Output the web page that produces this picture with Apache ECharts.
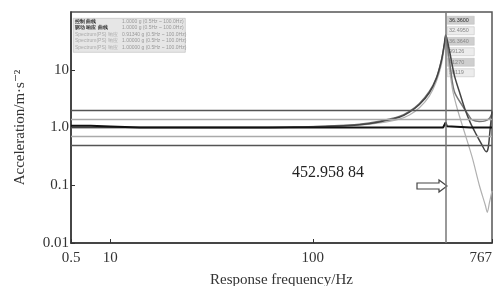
<!DOCTYPE html>
<html>
<head>
<meta charset="utf-8">
<title>response</title>
<script src="https://cdn.jsdelivr.net/npm/echarts@6/dist/echarts.min.js"></script>
</head>
<body style="margin:0;background:#fff">
<div id="main" style="width:501px;height:286px;"></div>
<script type="text/javascript">

    // axis ticks
    var xTickVals = [6.4, 10, 100, 767];
    var xTickText = ['0.5', '10', '100', '767'];
    var yTickVals = [0.01, 0.1, 1, 10];
    var yTickText = ['0.01', '0.1', '1.0', '10'];

    // control (black)
    var ctrlFreq = [6.4, 8, 10, 14, 30, 100, 300, 440, 447, 453, 459, 466, 600, 767];
    var ctrlVal  = [1.07, 1.07, 1.04, 1.0, 1.0, 1.0, 1.0, 1.0, 1.05, 1.22, 1.05, 1.0, 1.0, 1.0];

    // response 1 (dark, dips near 720 Hz)
    var r1Freq = [6.4, 20, 60, 86, 121, 170, 213, 267, 300, 336, 376, 407, 431, 446, 453, 472, 500, 529, 566, 600, 641, 680, 719, 735, 750, 767];
    var r1Val  = [1.0, 1.0, 1.0, 1.02, 1.05, 1.12, 1.25, 1.5, 1.85, 2.5, 4.0, 7.0, 14, 28, 40, 22, 8, 4.2, 2.0, 1.2, 0.76, 0.52, 0.38, 0.45, 0.9, 1.9];

    // response 2 (mid grey, U shape)
    var r2Freq = [6.4, 20, 60, 86, 121, 170, 213, 267, 300, 336, 376, 407, 431, 446, 453, 472, 500, 547, 590, 613, 664, 710, 745, 767];
    var r2Val  = [1.0, 1.0, 1.0, 1.02, 1.06, 1.14, 1.28, 1.55, 1.9, 2.6, 4.2, 7.2, 14.5, 27, 37, 15, 4.2, 2.4, 1.6, 1.35, 1.27, 1.3, 1.45, 1.75];

    // response 3 (light grey, deep notch)
    var r3Freq = [6.4, 20, 60, 86, 121, 170, 213, 267, 300, 336, 376, 407, 431, 446, 453, 470, 490, 510, 529, 566, 613, 664, 711, 727, 745, 767];
    var r3Val  = [1.0, 1.0, 0.99, 1.0, 1.03, 1.1, 1.2, 1.4, 1.65, 2.2, 3.5, 6.2, 12, 24, 33, 12, 4.5, 2.5, 1.6, 0.75, 0.3, 0.1, 0.045, 0.034, 0.05, 0.08];

    // limit lines
    var limitVals = [2.0, 1.41, 0.71, 0.5];
    var limitColors = ['#555', '#aaa', '#aaa', '#555'];
    var markFreq = 452.958;

    // table text
    var tableRows = [
        ['控制 曲线', '1.0000 g (0.5Hz ~ 100.0Hz)'],
        ['驱动 响应 曲线', '1.0000 g (0.5Hz ~ 100.0Hz)'],
        ['Spectrum(PS) 响应', '0.91340 g (0.5Hz ~ 100.0Hz)'],
        ['Spectrum(PS) 响应', '1.00000 g (0.5Hz ~ 100.0Hz)'],
        ['Spectrum(PS) 响应', '1.00000 g (0.5Hz ~ 100.0Hz)']
    ];
    var peakRows = ['36.3600', '32.4950', '36.3640', '99126', '41270', '50119'];

    function zip(a, b) {
        var out = [];
        for (var i = 0; i < a.length; i++) out.push([a[i], b[i]]);
        return out;
    }
    function pick(vals, texts, v) {
        for (var i = 0; i < vals.length; i++) {
            if (Math.abs(Math.log(v / vals[i])) < 0.02) return texts[i];
        }
        return '';
    }

    var serif = '"Liberation Serif", "DejaVu Serif", serif';

    var graphics = [];
    // small table top-left
    graphics.push({
        type: 'rect', left: 73, top: 18, silent: true,
        shape: { width: 112, height: 34 },
        style: { fill: '#e6e6e6', stroke: '#bbb', lineWidth: 0.6 }
    });
    for (var i = 0; i < tableRows.length; i++) {
        graphics.push({
            type: 'text', left: 75, top: 19 + i * 6.5, silent: true,
            style: { text: tableRows[i][0], fontSize: 5, fill: i < 2 ? '#333' : '#aaa', fontWeight: i < 2 ? 'bold' : 'normal' }
        });
        graphics.push({
            type: 'text', left: 122, top: 19 + i * 6.5, silent: true,
            style: { text: tableRows[i][1], fontSize: 5, fill: '#999' }
        });
    }
    // peak value boxes
    for (var j = 0; j < peakRows.length; j++) {
        graphics.push({
            type: 'rect', left: 447, top: 16 + j * 10.5, silent: true,
            shape: { width: 27, height: 8 },
            style: { fill: j % 2 === 0 ? '#cfcfcf' : '#ececec', stroke: '#bbb', lineWidth: 0.5 }
        });
        graphics.push({
            type: 'text', left: 449, top: 17 + j * 10.5, silent: true,
            style: { text: peakRows[j], fontSize: 5.5, fill: j === 0 ? '#333' : '#888' }
        });
    }
    // frequency annotation
    graphics.push({
        type: 'text', left: 292, top: 165, silent: true,
        style: { text: '452.958 84', fontSize: 16, fontFamily: serif, fill: '#222' }
    });
    graphics.push({
        type: 'polygon', silent: true,
        shape: { points: [[417, 183], [439, 183], [439, 180], [447, 186], [439, 192], [439, 189], [417, 189]] },
        style: { fill: '#fff', stroke: '#444', lineWidth: 1.2 }
    });

    var myChart = echarts.init(document.getElementById('main'));

    var limitLines = [];
    for (var k = 0; k < limitVals.length; k++) {
        limitLines.push({ yAxis: limitVals[k], lineStyle: { color: limitColors[k], width: 1.3, type: 'solid' } });
    }
    limitLines.push({ xAxis: markFreq, lineStyle: { color: '#777', width: 1.5, type: 'solid' } });

    var option = {
        animation: false,
        backgroundColor: '#fff',
        grid: {
            left: 71, right: 9, top: 12, bottom: 43,
            outerBoundsMode: 'none', containLabel: false,
            show: true, borderColor: '#555', borderWidth: 1.5
        },
        xAxis: {
            type: 'log',
            min: 6.4,
            max: 767,
            name: 'Response frequency/Hz',
            nameLocation: 'middle',
            nameGap: 30,
            nameTextStyle: { fontFamily: serif, fontSize: 15, color: '#333' },
            axisLine: { lineStyle: { color: '#333', width: 1.5 } },
            axisTick: { inside: true, length: 4, customValues: xTickVals, lineStyle: { color: '#333' } },
            axisLabel: {
                customValues: xTickVals,
                margin: 8,
                alignMaxLabel: 'right',
                fontFamily: serif, fontSize: 15, color: '#333',
                formatter: function (v) { return pick(xTickVals, xTickText, v); }
            },
            splitLine: { show: false },
            minorTick: { show: false }
        },
        yAxis: {
            type: 'log',
            min: 0.01,
            max: 100,
            name: 'Acceleration/m·s⁻²',
            nameLocation: 'middle',
            nameGap: 43,
            nameTextStyle: { fontFamily: serif, fontSize: 15, color: '#333' },
            axisLine: { lineStyle: { color: '#333', width: 1.5 } },
            axisTick: { inside: true, length: 4, customValues: yTickVals, lineStyle: { color: '#333' } },
            axisLabel: {
                customValues: yTickVals,
                margin: 2,
                fontFamily: serif, fontSize: 15, color: '#333',
                formatter: function (v) { return pick(yTickVals, yTickText, v); }
            },
            splitLine: { show: false }
        },
        series: [
            {
                name: 'r3', type: 'line', showSymbol: false, smooth: 0.3,
                data: zip(r3Freq, r3Val),
                lineStyle: { color: '#b0b0b0', width: 1.2 }
            },
            {
                name: 'r2', type: 'line', showSymbol: false, smooth: 0.3,
                data: zip(r2Freq, r2Val),
                lineStyle: { color: '#777', width: 1.4 }
            },
            {
                name: 'r1', type: 'line', showSymbol: false, smooth: 0.3,
                data: zip(r1Freq, r1Val),
                lineStyle: { color: '#444', width: 1.5 }
            },
            {
                name: 'ctrl', type: 'line', showSymbol: false,
                data: zip(ctrlFreq, ctrlVal),
                lineStyle: { color: '#111', width: 2 },
                markLine: { silent: true, symbol: 'none', label: { show: false }, data: limitLines }
            }
        ],
        graphic: graphics
    };

    myChart.setOption(option);
</script>
</body>
</html>
